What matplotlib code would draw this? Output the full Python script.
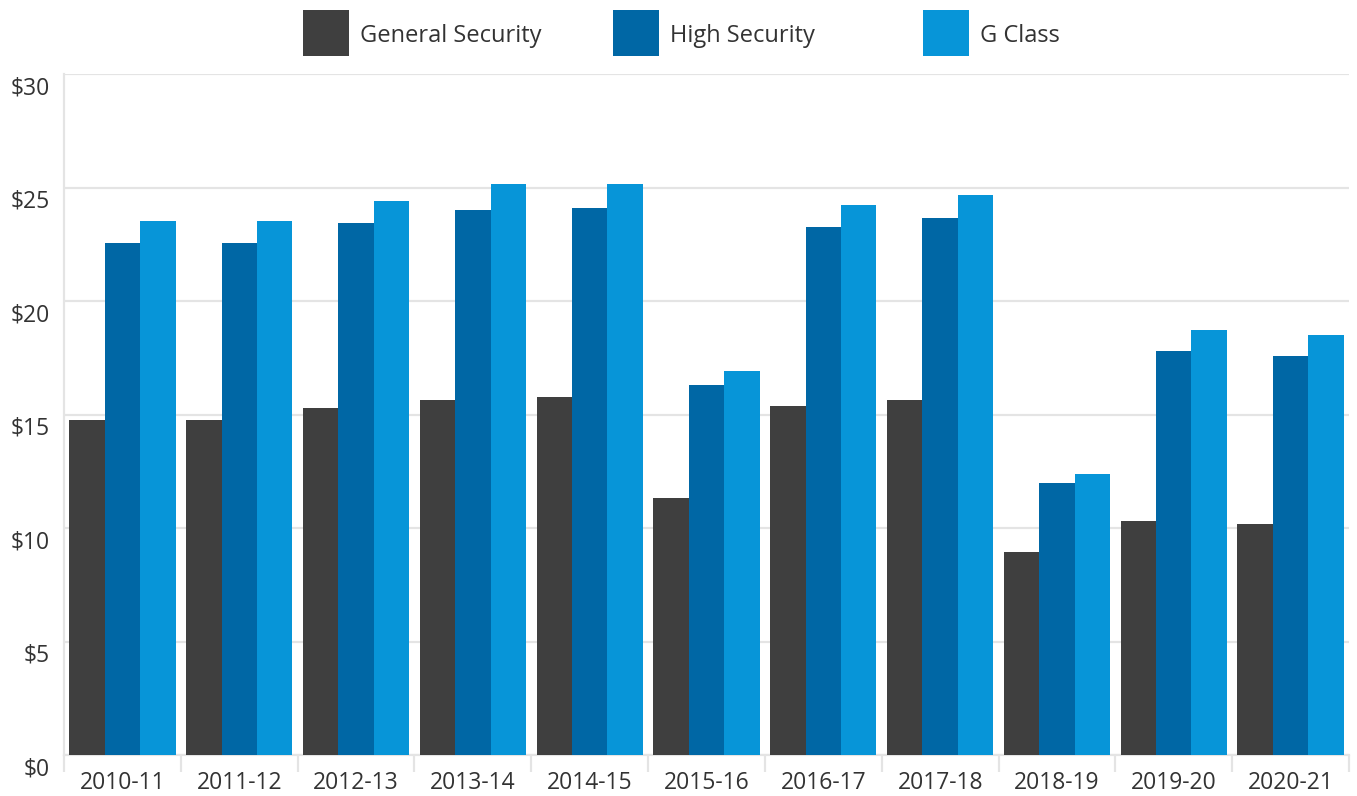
import numpy as np
import matplotlib
matplotlib.use("Agg")
import matplotlib.pyplot as plt
from matplotlib.patches import Rectangle
from matplotlib.ticker import FixedLocator, FuncFormatter
import matplotlib.transforms as mtransforms

years = ["2010-11", "2011-12", "2012-13", "2013-14", "2014-15", "2015-16",
         "2016-17", "2017-18", "2018-19", "2019-20", "2020-21"]
general_security = [14.77, 14.77, 15.30, 15.65, 15.78, 11.33, 15.39, 15.65, 8.96, 10.32, 10.19]
high_security = [22.58, 22.58, 23.42, 24.02, 24.11, 16.31, 23.27, 23.67, 11.99, 17.81, 17.59]
g_class = [23.54, 23.54, 24.42, 25.17, 25.17, 16.93, 24.24, 24.68, 12.39, 18.74, 18.52]
series_names = ["General Security", "High Security", "G Class"]
colors = ["#3f3f3f", "#0067a5", "#0795d8"]
y_ticks = [0, 5, 10, 15, 20, 25, 30]

plt.rcParams["font.family"] = ["Open Sans", "DejaVu Sans"]
text_color = "#333333"
grid_color = "#e4e4e4"

W, H = 1357, 796
fig = plt.figure(figsize=(W / 100, H / 100), dpi=100)
ax = fig.add_axes([64 / W, 1 - 755.3 / H, (1349 - 64) / W, (755.3 - 74) / H])

x = np.arange(len(years))
bw = 0.303
for i, (vals, c) in enumerate(zip([general_security, high_security, g_class], colors)):
    ax.bar(x + (i - 1) * bw, vals, width=bw, color=c, zorder=3, linewidth=0)

ax.set_xlim(-0.5, len(years) - 0.5)
ax.set_ylim(0, 30)

# y axis
ax.yaxis.set_major_locator(FixedLocator(y_ticks))
ax.yaxis.set_major_formatter(FuncFormatter(lambda v, p: f"${v:.0f}"))
ax.tick_params(axis="y", length=0, pad=10, labelsize=16.5, labelcolor=text_color)
shift = mtransforms.ScaledTranslation(0, -11 / 100, fig.dpi_scale_trans)
for lbl in ax.get_yticklabels():
    lbl.set_transform(lbl.get_transform() + shift)
ax.grid(axis="y", color=grid_color, linewidth=1.6, zorder=0)

# x axis: labels at centres, separator ticks at boundaries
ax.set_xticks(x)
ax.set_xticklabels(years)
ax.set_xticks(np.arange(len(years) + 1) - 0.5, minor=True)
ax.tick_params(axis="x", which="major", length=0, pad=11, labelsize=16.5, labelcolor=text_color)
ax.tick_params(axis="x", which="minor", length=12, width=1.6, color=grid_color)

for side in ["top", "right"]:
    ax.spines[side].set_visible(False)
for side in ["left", "bottom"]:
    ax.spines[side].set_color(grid_color)
    ax.spines[side].set_linewidth(1.6)

# legend across the top
leg_x = [303, 613, 923]
for lx, name, c in zip(leg_x, series_names, colors):
    fig.add_artist(Rectangle((lx / W, 1 - 56 / H), 46 / W, 46 / H,
                             transform=fig.transFigure, color=c, linewidth=0))
    fig.text((lx + 57) / W, 1 - 36 / H, name, fontsize=17, color=text_color,
             va="center", ha="left")

fig.savefig("out.png", dpi=100, facecolor="white")
